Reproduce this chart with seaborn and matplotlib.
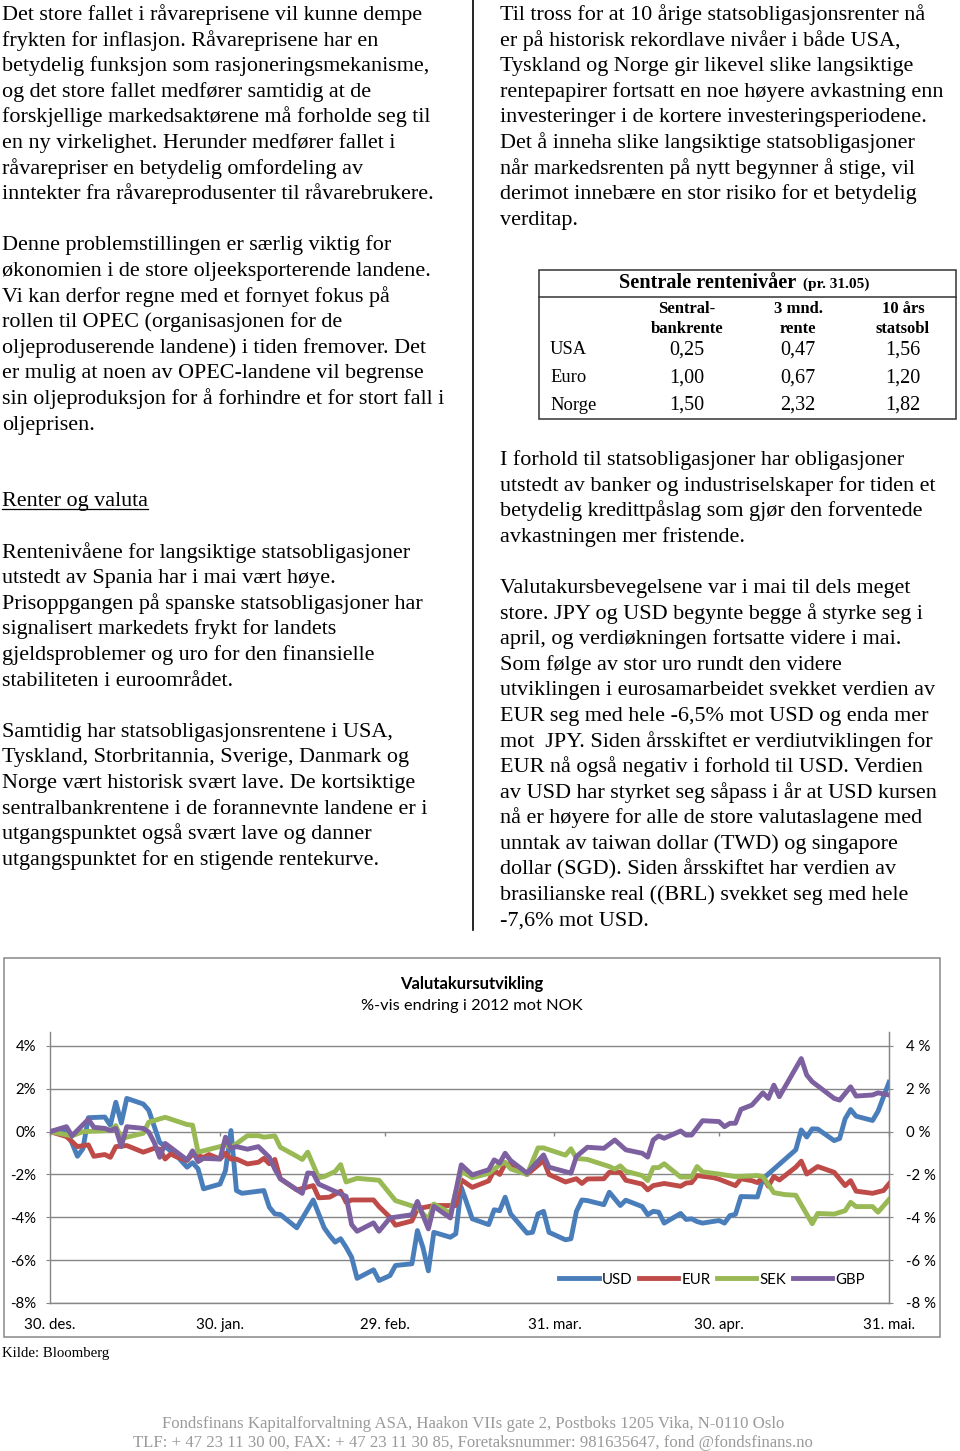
import pandas as pd
import seaborn as sns
import matplotlib.pyplot as plt
from matplotlib.patches import Rectangle
from matplotlib.lines import Line2D
from matplotlib.ticker import FuncFormatter

# -------------------------------
# Data - valutakurs, %-vis endring mot NOK
# -------------------------------
usd_dato = ["2011-12-30", "2012-01-02", "2012-01-04", "2012-01-05", "2012-01-06", "2012-01-09", "2012-01-10", "2012-01-11", "2012-01-12", "2012-01-13",
            "2012-01-16", "2012-01-17", "2012-01-19", "2012-01-21", "2012-01-22", "2012-01-24", "2012-01-25", "2012-01-26", "2012-01-27", "2012-01-30",
            "2012-01-31", "2012-02-01", "2012-02-02", "2012-02-03", "2012-02-07", "2012-02-08", "2012-02-09", "2012-02-10", "2012-02-13", "2012-02-16",
            "2012-02-18", "2012-02-19", "2012-02-20", "2012-02-21", "2012-02-22", "2012-02-23", "2012-02-24", "2012-02-27", "2012-02-28", "2012-03-01",
            "2012-03-02", "2012-03-05", "2012-03-06", "2012-03-07", "2012-03-08", "2012-03-09", "2012-03-12", "2012-03-13", "2012-03-14", "2012-03-16",
            "2012-03-19", "2012-03-20", "2012-03-21", "2012-03-22", "2012-03-23", "2012-03-26", "2012-03-27", "2012-03-28", "2012-03-29", "2012-03-30",
            "2012-04-02", "2012-04-03", "2012-04-04", "2012-04-05", "2012-04-06", "2012-04-09", "2012-04-10", "2012-04-12", "2012-04-13", "2012-04-16",
            "2012-04-17", "2012-04-18", "2012-04-19", "2012-04-20", "2012-04-23", "2012-04-24", "2012-04-25", "2012-04-26", "2012-04-27", "2012-04-30",
            "2012-05-01", "2012-05-02", "2012-05-03", "2012-05-04", "2012-05-07", "2012-05-08", "2012-05-14", "2012-05-15", "2012-05-16", "2012-05-17",
            "2012-05-18", "2012-05-21", "2012-05-22", "2012-05-23", "2012-05-24", "2012-05-25", "2012-05-28", "2012-05-29", "2012-05-31"]
usd_verdi = [0, 0.1, -1.15, -0.8, 0.65, 0.68, 0.3, 1.37, 0.4, 1.55,
             1.29, 1.0, -0.5, -0.9, -1.1, -1.66, -1.45, -1.74, -2.67, -2.45,
             -1.82, 0.05, -2.75, -2.88, -2.75, -3.53, -3.84, -3.87, -4.49, -3.19,
             -4.49, -4.85, -5.16, -5.0, -5.4, -5.86, -6.85, -6.45, -6.95, -6.72,
             -6.25, -6.17, -4.62, -5.4, -6.5, -4.7, -4.93, -4.77, -2.6, -4.07,
             -4.34, -3.65, -3.69, -3.06, -3.84, -4.74, -4.7, -3.84, -3.72, -4.7,
             -5.05, -5.0, -3.72, -3.19, -3.22, -3.41, -2.83, -3.45, -3.2, -3.5,
             -3.88, -3.72, -3.76, -4.27, -3.82, -4.1, -4.07, -4.2, -4.27, -4.15,
             -4.27, -3.92, -3.86, -3.03, -3.05, -2.2, -0.85, 0.08, -0.25, 0.13,
             0.12, -0.42, -0.32, 0.6, 1.03, 0.72, 0.52, 0.95, 2.3]

eur_dato = ["2011-12-30", "2012-01-02", "2012-01-04", "2012-01-06", "2012-01-07", "2012-01-09", "2012-01-10", "2012-01-11", "2012-01-13", "2012-01-16",
            "2012-01-18", "2012-01-19", "2012-01-20", "2012-01-21", "2012-01-22", "2012-01-24", "2012-01-25", "2012-01-27", "2012-01-28", "2012-01-30",
            "2012-01-31", "2012-02-01", "2012-02-02", "2012-02-04", "2012-02-06", "2012-02-07", "2012-02-08", "2012-02-09", "2012-02-10", "2012-02-13",
            "2012-02-16", "2012-02-17", "2012-02-19", "2012-02-21", "2012-02-22", "2012-02-23", "2012-02-27", "2012-02-28", "2012-03-01", "2012-03-02",
            "2012-03-05", "2012-03-06", "2012-03-09", "2012-03-13", "2012-03-14", "2012-03-16", "2012-03-19", "2012-03-20", "2012-03-21", "2012-03-22",
            "2012-03-23", "2012-03-26", "2012-03-29", "2012-03-30", "2012-04-02", "2012-04-04", "2012-04-05", "2012-04-06", "2012-04-09", "2012-04-10",
            "2012-04-12", "2012-04-13", "2012-04-16", "2012-04-17", "2012-04-18", "2012-04-20", "2012-04-23", "2012-04-24", "2012-04-25", "2012-04-26",
            "2012-04-29", "2012-04-30", "2012-05-03", "2012-05-04", "2012-05-06", "2012-05-07", "2012-05-08", "2012-05-09", "2012-05-10", "2012-05-11",
            "2012-05-14", "2012-05-15", "2012-05-16", "2012-05-18", "2012-05-21", "2012-05-23", "2012-05-24", "2012-05-25", "2012-05-28", "2012-05-30",
            "2012-05-31"]
eur_verdi = [0, -0.23, -0.7, -0.62, -1.15, -1.07, -1.2, -0.7, -0.65, -0.96,
             -0.78, -0.82, -1.28, -1.04, -1.17, -1.35, -1.04, -1.2, -1.07, -1.28,
             -1.01, -1.28, -1.28, -1.51, -1.43, -1.25, -1.5, -1.3, -2.2, -2.72,
             -2.52, -3.09, -3.06, -2.78, -3.3, -3.19, -3.19, -3.5, -4.0, -4.37,
             -4.17, -3.6, -3.45, -3.45, -2.25, -2.6, -2.3, -1.8, -2.0, -1.5,
             -1.55, -2.0, -1.35, -2.0, -2.35, -2.2, -2.42, -2.21, -2.2, -1.9,
             -1.9, -2.27, -2.45, -2.72, -2.52, -2.42, -2.55, -2.4, -2.38, -2.05,
             -2.15, -2.22, -2.52, -2.2, -2.29, -2.38, -2.13, -2.55, -2.1, -2.26,
             -1.66, -1.38, -1.98, -1.63, -1.9, -2.52, -2.29, -2.78, -2.88, -2.75,
             -2.44]

sek_dato = ["2011-12-30", "2012-01-03", "2012-01-05", "2012-01-10", "2012-01-11", "2012-01-12", "2012-01-16", "2012-01-17", "2012-01-20", "2012-01-24",
            "2012-01-25", "2012-01-26", "2012-01-30", "2012-01-31", "2012-02-01", "2012-02-04", "2012-02-06", "2012-02-07", "2012-02-09", "2012-02-10",
            "2012-02-13", "2012-02-14", "2012-02-15", "2012-02-17", "2012-02-18", "2012-02-20", "2012-02-21", "2012-02-22", "2012-02-24", "2012-02-28",
            "2012-03-02", "2012-03-06", "2012-03-08", "2012-03-09", "2012-03-12", "2012-03-14", "2012-03-16", "2012-03-19", "2012-03-21", "2012-03-22",
            "2012-03-23", "2012-03-26", "2012-03-28", "2012-03-29", "2012-04-02", "2012-04-03", "2012-04-04", "2012-04-06", "2012-04-10", "2012-04-11",
            "2012-04-12", "2012-04-13", "2012-04-16", "2012-04-17", "2012-04-18", "2012-04-19", "2012-04-20", "2012-04-23", "2012-04-25", "2012-04-26",
            "2012-04-27", "2012-04-30", "2012-05-03", "2012-05-07", "2012-05-08", "2012-05-10", "2012-05-12", "2012-05-14", "2012-05-17", "2012-05-18",
            "2012-05-21", "2012-05-23", "2012-05-24", "2012-05-25", "2012-05-28", "2012-05-29", "2012-05-31"]
sek_verdi = [0, -0.2, 0.0, 0.05, 0.28, -0.32, -0.08, 0.44, 0.67, 0.33,
             0.3, -0.96, -0.7, -0.62, -0.75, -0.19, -0.19, -0.26, -0.2, -0.73,
             -1.15, -1.3, -0.96, -2.15, -2.1, -1.86, -1.54, -2.35, -2.18, -2.27,
             -3.22, -3.55, -4.1, -3.38, -3.8, -1.85, -2.15, -1.95, -1.55, -1.43,
             -1.74, -2.0, -0.76, -0.76, -1.1, -0.8, -1.25, -1.3, -1.63, -1.75,
             -1.6, -1.85, -2.05, -2.28, -1.68, -1.68, -1.5, -2.12, -2.12, -1.63,
             -1.88, -1.98, -2.1, -2.05, -2.1, -2.85, -2.94, -2.97, -4.3, -3.82,
             -3.85, -3.69, -3.3, -3.5, -3.5, -3.76, -3.17]

gbp_dato = ["2011-12-30", "2012-01-02", "2012-01-03", "2012-01-06", "2012-01-07", "2012-01-09", "2012-01-10", "2012-01-11", "2012-01-12", "2012-01-13",
            "2012-01-16", "2012-01-17", "2012-01-18", "2012-01-19", "2012-01-20", "2012-01-24", "2012-01-25", "2012-01-26", "2012-01-27", "2012-01-30",
            "2012-01-31", "2012-02-01", "2012-02-02", "2012-02-04", "2012-02-06", "2012-02-08", "2012-02-09", "2012-02-10", "2012-02-14", "2012-02-15",
            "2012-02-16", "2012-02-17", "2012-02-22", "2012-02-23", "2012-02-24", "2012-02-27", "2012-02-28", "2012-03-01", "2012-03-05", "2012-03-06",
            "2012-03-08", "2012-03-09", "2012-03-12", "2012-03-14", "2012-03-16", "2012-03-19", "2012-03-20", "2012-03-21", "2012-03-22", "2012-03-23",
            "2012-03-26", "2012-03-29", "2012-03-30", "2012-04-03", "2012-04-04", "2012-04-06", "2012-04-09", "2012-04-11", "2012-04-13", "2012-04-16",
            "2012-04-17", "2012-04-18", "2012-04-19", "2012-04-20", "2012-04-23", "2012-04-24", "2012-04-25", "2012-04-27", "2012-04-30", "2012-05-01",
            "2012-05-02", "2012-05-03", "2012-05-04", "2012-05-06", "2012-05-08", "2012-05-09", "2012-05-10", "2012-05-11", "2012-05-15", "2012-05-16",
            "2012-05-17", "2012-05-21", "2012-05-22", "2012-05-24", "2012-05-25", "2012-05-28", "2012-05-29", "2012-05-31"]
gbp_verdi = [0, 0.23, -0.2, 0.58, 0.2, 0.15, 0.05, 0.15, -0.7, 0.23,
             0.15, -0.02, -0.5, -1.2, -0.55, -1.32, -0.9, -1.4, -1.25, -1.28,
             -0.26, -0.78, -0.7, -0.82, -0.7, -1.2, -1.75, -2.2, -2.88, -1.93,
             -1.95, -2.45, -3.02, -4.34, -4.65, -4.26, -4.65, -4.03, -3.88, -3.26,
             -4.54, -3.49, -4.03, -1.55, -2.02, -1.78, -1.32, -1.47, -1.01, -1.35,
             -1.94, -1.09, -1.66, -1.94, -1.16, -0.73, -0.78, -0.39, -0.85, -1.01,
             -1.19, -0.39, -0.2, -0.31, 0.03, -0.16, -0.16, 0.51, 0.47, 0.23,
             0.39, 0.39, 1.04, 1.24, 1.81, 1.55, 2.17, 1.63, 3.41, 2.64,
             2.33, 1.55, 1.47, 2.09, 1.66, 1.71, 1.81, 1.71]

valutaer = ["USD", "EUR", "SEK", "GBP"]
farger = ["#4A7EBB", "#BE4B48", "#98B954", "#7D60A0"]

tick_datoer = ["2011-12-30", "2012-01-30", "2012-02-29", "2012-03-31", "2012-04-30", "2012-05-31"]
tick_tekster = ["30. des.", "30. jan.", "29. feb.", "31. mar.", "30. apr.", "31. mai."]
y_ticks = [-8, -6, -4, -2, 0, 2, 4]

# Tabell - sentrale rentenivåer
land = ["USA", "Euro", "Norge"]
sentralbankrente = ["0,25", "1,00", "1,50"]
tre_mnd_rente = ["0,47", "0,67", "2,32"]
ti_aars_statsobl = ["1,56", "1,20", "1,82"]
kolonne_titler = ["Sentral-\nbankrente", "3 mnd.\nrente", "10 års\nstatsobl"]

# -------------------------------
# Tekst
# -------------------------------
venstre_tekst = [
    "Det store fallet i råvareprisene vil kunne dempe",
    "frykten for inflasjon. Råvareprisene har en",
    "betydelig funksjon som rasjoneringsmekanisme,",
    "og det store fallet medfører samtidig at de",
    "forskjellige markedsaktørene må forholde seg til",
    "en ny virkelighet. Herunder medfører fallet i",
    "råvarepriser en betydelig omfordeling av",
    "inntekter fra råvareprodusenter til råvarebrukere.",
    "",
    "Denne problemstillingen er særlig viktig for",
    "økonomien i de store oljeeksporterende landene.",
    "Vi kan derfor regne med et fornyet fokus på",
    "rollen til OPEC (organisasjonen for de",
    "oljeproduserende landene) i tiden fremover. Det",
    "er mulig at noen av OPEC-landene vil begrense",
    "sin oljeproduksjon for å forhindre et for stort fall i",
    "oljeprisen.",
    "",
    "",
    "Renter og valuta",
    "",
    "Rentenivåene for langsiktige statsobligasjoner",
    "utstedt av Spania har i mai vært høye.",
    "Prisoppgangen på spanske statsobligasjoner har",
    "signalisert markedets frykt for landets",
    "gjeldsproblemer og uro for den finansielle",
    "stabiliteten i euroområdet.",
    "",
    "Samtidig har statsobligasjonsrentene i USA,",
    "Tyskland, Storbritannia, Sverige, Danmark og",
    "Norge vært historisk svært lave. De kortsiktige",
    "sentralbankrentene i de forannevnte landene er i",
    "utgangspunktet også svært lave og danner",
    "utgangspunktet for en stigende rentekurve.",
]
overskrift = "Renter og valuta"

hoyre_tekst_1 = [
    "Til tross for at 10 årige statsobligasjonsrenter nå",
    "er på historisk rekordlave nivåer i både USA,",
    "Tyskland og Norge gir likevel slike langsiktige",
    "rentepapirer fortsatt en noe høyere avkastning enn",
    "investeringer i de kortere investeringsperiodene.",
    "Det å inneha slike langsiktige statsobligasjoner",
    "når markedsrenten på nytt begynner å stige, vil",
    "derimot innebære en stor risiko for et betydelig",
    "verditap.",
]

hoyre_tekst_2 = [
    "I forhold til statsobligasjoner har obligasjoner",
    "utstedt av banker og industriselskaper for tiden et",
    "betydelig kredittpåslag som gjør den forventede",
    "avkastningen mer fristende.",
    "",
    "Valutakursbevegelsene var i mai til dels meget",
    "store. JPY og USD begynte begge å styrke seg i",
    "april, og verdiøkningen fortsatte videre i mai.",
    "Som følge av stor uro rundt den videre",
    "utviklingen i eurosamarbeidet svekket verdien av",
    "EUR seg med hele -6,5% mot USD og enda mer",
    "mot  JPY. Siden årsskiftet er verdiutviklingen for",
    "EUR nå også negativ i forhold til USD. Verdien",
    "av USD har styrket seg såpass i år at USD kursen",
    "nå er høyere for alle de store valutaslagene med",
    "unntak av taiwan dollar (TWD) og singapore",
    "dollar (SGD). Siden årsskiftet har verdien av",
    "brasilianske real ((BRL) svekket seg med hele",
    "-7,6% mot USD.",
]

kilde = "Kilde: Bloomberg"
bunntekst = ["Fondsfinans Kapitalforvaltning ASA, Haakon VIIs gate 2, Postboks 1205 Vika, N-0110 Oslo",
             "TLF: + 47 23 11 30 00, FAX: + 47 23 11 30 85, Foretaksnummer: 981635647, fond @fondsfinans.no"]

SERIF = "Liberation Serif"
SANS = "Lato"

# -------------------------------
# Figur
# -------------------------------
W, H = 960, 1451
fig = plt.figure(figsize=(W / 100, H / 100), dpi=100)
renderer = fig.canvas.get_renderer()


def fx(x):
    return x / W


def fy(y):
    return 1 - y / H


def tilpass(tekst, bredde, **kw):
    # finn fontstørrelse slik at teksten får ønsket bredde i piksler
    t = fig.text(0, 0, tekst, fontsize=10, **kw)
    b = t.get_window_extent(renderer).width
    t.remove()
    return 10 * bredde / b


fs_brod = tilpass(venstre_tekst[0], 422, family=SERIF)
linje = 25.6

for i, s in enumerate(venstre_tekst):
    if not s:
        continue
    t = fig.text(fx(2), fy(20 + i * linje), s, family=SERIF, fontsize=fs_brod, va="baseline")
    if s == overskrift:
        bb = t.get_window_extent(renderer)
        uy = fy(20 + i * linje + 3)
        fig.add_artist(Line2D([bb.x0 / W, bb.x1 / W], [uy, uy], color="black", lw=0.9))

for i, s in enumerate(hoyre_tekst_1):
    fig.text(fx(500), fy(20 + i * linje), s, family=SERIF, fontsize=fs_brod, va="baseline")

for i, s in enumerate(hoyre_tekst_2):
    if s:
        fig.text(fx(500), fy(465 + i * linje), s, family=SERIF, fontsize=fs_brod, va="baseline")

# skillelinje mellom kolonnene
fig.add_artist(Line2D([fx(473), fx(473)], [fy(0), fy(930)], color="black", lw=1.2))

# -------------------------------
# Tabell
# -------------------------------
fig.add_artist(Rectangle((fx(539), fy(419)), (956 - 539) / W, (419 - 270) / H,
                         fill=False, ec="#333333", lw=1.1, transform=fig.transFigure))
fig.add_artist(Line2D([fx(539), fx(956)], [fy(297), fy(297)], color="#333333", lw=1.1))

fs_tittel = tilpass("Sentrale rentenivåer", 178, family=SERIF, weight="bold")
fig.text(fx(619), fy(283), "Sentrale rentenivåer", family=SERIF, weight="bold",
         fontsize=fs_tittel, va="center")
fig.text(fx(803), fy(284), "(pr. 31.05)", family=SERIF, weight="bold",
         fontsize=fs_tittel * 0.76, va="center")

kol_x = [687, 798, 903]
fs_head = tilpass("bankrente", 73, family=SERIF, weight="bold")
for cx, tittel in zip(kol_x, kolonne_titler):
    fig.text(fx(cx), fy(319), tittel, family=SERIF, weight="bold", fontsize=fs_head,
             ha="center", va="center", linespacing=1.3)

fs_verdi = tilpass("0,25", 35, family=SERIF)
rad_y = [350, 378, 405]
for ry, navn, a, b, c in zip(rad_y, land, sentralbankrente, tre_mnd_rente, ti_aars_statsobl):
    fig.text(fx(550), fy(ry), navn, family=SERIF, fontsize=fs_verdi * 0.92, va="center")
    for cx, v in zip(kol_x, [a, b, c]):
        fig.text(fx(cx), fy(ry), v, family=SERIF, fontsize=fs_verdi, ha="center", va="center")

# -------------------------------
# Diagram
# -------------------------------
fig.add_artist(Rectangle((fx(4), fy(1337)), (940 - 4) / W, (1337 - 958) / H,
                         fill=False, ec="#878787", lw=1.1, transform=fig.transFigure))

fs_ct = tilpass("Valutakursutvikling", 144, family=SANS, weight="bold")
fig.text(fx(472), fy(984), "Valutakursutvikling", family=SANS, weight="bold",
         fontsize=fs_ct, ha="center", va="center")
fs_sub = tilpass("%-vis endring i 2012 mot NOK", 221, family=SANS)
fig.text(fx(472), fy(1006), "%-vis endring i 2012 mot NOK", family=SANS,
         fontsize=fs_sub, ha="center", va="center")

frames = []
for navn, d, v in zip(valutaer, [usd_dato, eur_dato, sek_dato, gbp_dato],
                      [usd_verdi, eur_verdi, sek_verdi, gbp_verdi]):
    assert len(d) == len(v), navn
    frames.append(pd.DataFrame({"Dato": pd.to_datetime(d), "Endring": v, "Valuta": navn}))
df = pd.concat(frames, ignore_index=True)

ax = fig.add_axes([fx(50), fy(1303), (889 - 50) / W, (1303 - 1032) / H])
sns.lineplot(data=df, x="Dato", y="Endring", hue="Valuta", hue_order=valutaer,
             palette=farger, linewidth=3.5, estimator=None, ax=ax, zorder=3)

grid = "#868686"
ax.set_xlim(pd.Timestamp("2011-12-30"), pd.Timestamp("2012-05-31"))
ax.set_ylim(-8, 4.65)
ax.set_yticks(y_ticks)
ax.yaxis.set_major_formatter(FuncFormatter(lambda v, p: f"{v:.0f}%"))
ax.grid(axis="y", color=grid, lw=1.0)
ax.set_axisbelow(True)
ax.set_xticks(pd.to_datetime(tick_datoer))
ax.set_xticklabels(tick_tekster)
ax.set_xlabel("")
ax.set_ylabel("")
ax.spines["top"].set_visible(False)
for side in ["left", "right", "bottom"]:
    ax.spines[side].set_color(grid)
    ax.spines[side].set_linewidth(1.0)
ax.tick_params(axis="x", length=0, pad=11, labelsize=fs_sub * 0.92, labelcolor="black")
ax.tick_params(axis="y", length=3, color=grid, pad=7, labelsize=fs_sub * 0.92)
for lbl in ax.get_xticklabels() + ax.get_yticklabels():
    lbl.set_family(SANS)

ax_h = ax.twinx()
ax_h.set_ylim(ax.get_ylim())
ax_h.set_yticks(y_ticks)
ax_h.yaxis.set_major_formatter(FuncFormatter(lambda v, p: f"{v:.0f} %"))
ax_h.tick_params(axis="y", length=3, color=grid, pad=9, labelsize=fs_sub * 0.92)
for side in ["top", "left", "bottom"]:
    ax_h.spines[side].set_visible(False)
ax_h.spines["right"].set_color(grid)
for lbl in ax_h.get_yticklabels():
    lbl.set_family(SANS)

# små tick-merker på 0-linjen
sek_akse = ax.secondary_xaxis(0, transform=ax.transData)
sek_akse.set_xticks(pd.to_datetime(tick_datoer))
sek_akse.set_xticklabels([])
sek_akse.tick_params(axis="x", length=3, color=grid, width=1.0)
sek_akse.spines["bottom"].set_visible(False)

handles, labels = ax.get_legend_handles_labels()
leg = ax.legend(handles, labels, ncol=4, frameon=False, loc="center",
                bbox_to_anchor=(0.789, 0.086), handlelength=2.6, handletextpad=0.2,
                columnspacing=0.45, prop={"family": SANS, "size": fs_sub * 0.92})

# -------------------------------
# Kilde og bunntekst
# -------------------------------
fs_kilde = tilpass(kilde, 106, family=SERIF)
fig.text(fx(2), fy(1353), kilde, family=SERIF, fontsize=fs_kilde, va="center")
fs_bunn = tilpass(bunntekst[0], 621, family=SERIF)
fig.text(fx(473), fy(1424), bunntekst[0], family=SERIF, fontsize=fs_bunn,
         color="#9a9a9a", ha="center", va="center")
fig.text(fx(473), fy(1443), bunntekst[1], family=SERIF, fontsize=fs_bunn,
         color="#9a9a9a", ha="center", va="center")

fig.savefig("out.png", dpi=100)
